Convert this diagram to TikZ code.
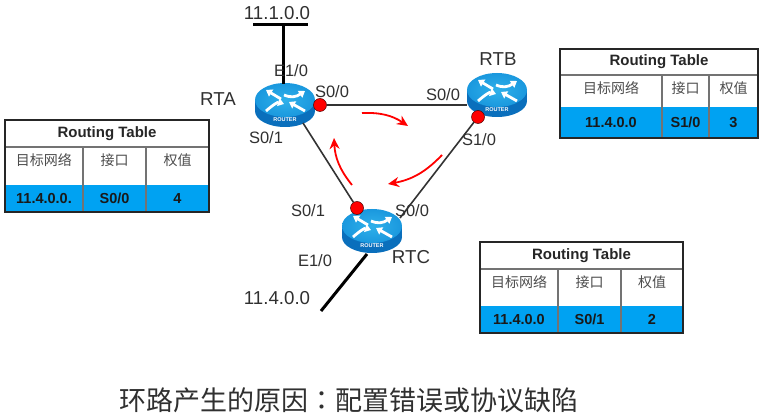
\documentclass[tikz,border=0pt]{standalone}
\usepackage{fontspec}
\setmainfont{Liberation Sans}
\newfontfamily\cjk{Noto Sans CJK SC}
\newfontfamily\cjkcolon{Noto Sans CJK TC}
\usetikzlibrary{arrows.meta, shapes.geometric}

\definecolor{routertop}{HTML}{2FB0EA}
\definecolor{routeredge}{HTML}{1A98DE}
\definecolor{routerside}{HTML}{0A6FBC}
\definecolor{tableblue}{HTML}{00A2F2}
\definecolor{labelgray}{HTML}{303030}

\tikzset{
	routerpic/.pic={
		\fill[routerside] (-30,-5) rectangle (30,6);
		\fill[routerside] (0,6) ellipse [x radius=30, y radius=16];
		\shade[inner color=routertop, outer color=routeredge] (0,-5) ellipse [x radius=30, y radius=17];
		\draw[white, line width=2.8pt, -{Triangle[length=6pt,width=8pt]}] (-4,-6) -- (-19,-15);
		\draw[white, line width=2.8pt, -{Triangle[length=6pt,width=8pt]}] (-19,6) .. controls (-11,-1) and (-7,-3) .. (-1,-1);
		\draw[white, line width=2.8pt, -{Triangle[length=6pt,width=8pt]}] (-1,-10) .. controls (6,-7) and (11,-8) .. (20,-14);
		\draw[white, line width=2.8pt, -{Triangle[length=6pt,width=8pt]}] (20,6) -- (4,-3);
		\node[white, font=\bfseries\fontsize{5.5}{6}\selectfont] at (0,15) {ROUTER};
	},
	routernode/.style={ellipse, minimum width=60pt, minimum height=44pt, inner sep=0pt},
	portdot/.style={circle, draw=black!70!red, fill=red, line width=0.5pt, minimum size=13pt, inner sep=0pt},
	iflabel/.style={text=labelgray, font=\fontsize{16.5}{18}\selectfont, inner sep=0pt},
	namelabel/.style={text=labelgray, font=\fontsize{18.7}{20}\selectfont, inner sep=0pt},
	link/.style={draw=black!80, line width=1.6pt},
	stub/.style={draw=black, line width=3pt},
	loopflow/.style={draw=red, line width=1.8pt, -{Stealth[length=11pt,width=10pt]}},
	tabletitle/.style={font=\bfseries\fontsize{15}{17}\selectfont, text=black!85, inner sep=0pt},
	tablehead/.style={font=\cjk\fontsize{14}{16}\selectfont, text=black!70, inner sep=0pt},
	tablecell/.style={font=\bfseries\fontsize{14.5}{16}\selectfont, text=black!90, inner sep=0pt},
}

\begin{document}
\begin{tikzpicture}[x=1pt,y=-1pt]
	\useasboundingbox (0,0) rectangle (763,419);

	% routers
	\node[routernode] (rta) at (285,105) {};
	\node[routernode] (rtb) at (497,95) {};
	\node[routernode] (rtc) at (372,231) {};
	\pic at (rta) {routerpic};
	\pic at (rtb) {routerpic};
	\pic at (rtc) {routerpic};

	\node[portdot] (dota) at (320,105) {};
	\node[portdot] (dotb) at (478,117) {};
	\node[portdot] (dotc) at (357,208) {};

	% networks
	\coordinate (busl) at (253,25);
	\coordinate (busr) at (308,25);
	\coordinate (busm) at (283,25);
	\coordinate (rtae) at (283,84);
	\coordinate (rtce) at (367,254);
	\coordinate (lanc) at (321,311);
	\coordinate (rtas) at (303,123);
	\coordinate (rtcs) at (400,218);

	\draw[stub] (busl) -- (busr);
	\draw[stub] (busm) -- (rtae);
	\draw[stub] (rtce) -- (lanc);
	\draw[link] (dota) -- (rtb.west |- dota);
	\draw[link] (rtas) -- (dotc);
	\draw[link] (dotb) -- (rtcs);

	% loop
	\coordinate (flowa) at (362,113);
	\coordinate (flowb) at (408,126);
	\coordinate (flowc) at (442,155);
	\coordinate (flowd) at (388,184);
	\coordinate (flowe) at (352,185);
	\coordinate (flowf) at (334,138);
	\draw[loopflow] (flowa) to[bend left=18] (flowb);
	\draw[loopflow] (flowc) to[bend left=18] (flowd);
	\draw[loopflow] (flowe) to[bend left=18] (flowf);

	% labels
	\node[namelabel] (neta) at (277,13) {11.1.0.0};
	\node[namelabel] (netc) at (277,298) {11.4.0.0};
	\node[namelabel] (namea) at (218,99) {RTA};
	\node[namelabel] (nameb) at (498,59) {RTB};
	\node[namelabel] (namec) at (411,257) {RTC};
	\node[iflabel] (ifae) at (291,71) {E1/0};
	\node[iflabel] (ifas) at (332,92) {S0/0};
	\node[iflabel] (ifat) at (266,138) {S0/1};
	\node[iflabel] (ifbs) at (443,95) {S0/0};
	\node[iflabel] (ifbt) at (479,140) {S1/0};
	\node[iflabel] (ifcs) at (308,211) {S0/1};
	\node[iflabel] (ifct) at (412,211) {S0/0};
	\node[iflabel] (ifce) at (315,261) {E1/0};

	% routing tables
	\foreach \nm/\xa/\xb/\xc/\xd/\ya/\yb/\yc/\yd/\net/\port/\cost in {
		left/5/83/146/209/120/147/185/212/11.4.0.0./S0\slash 0/4,
		right/560/662/709/758/49/75/107/138/11.4.0.0/S1\slash 0/3,
		low/480/558/621/683/242/269/306/333/11.4.0.0/S0\slash 1/2}
	{
		\fill[tableblue] (\xa,\yc) rectangle (\xd,\yd);
		\draw[black!55, line width=1.2pt] (\xa,\yb) -- (\xd,\yb) (\xb,\yb) -- (\xb,\yd) (\xc,\yb) -- (\xc,\yd);
		\draw[black!85, line width=1.6pt] (\xa,\ya) rectangle (\xd,\yd);
		\node[tabletitle] (\nm title) at ({(\xa+\xd)/2},{(\ya+\yb)/2}) {Routing Table};
		\node[tablehead] (\nm net) at ({(\xa+\xb)/2},{\yb+13}) {目标网络};
		\node[tablehead] (\nm port) at ({(\xb+\xc)/2},{\yb+13}) {接口};
		\node[tablehead] (\nm cost) at ({(\xc+\xd)/2},{\yb+13}) {权值};
		\node[tablecell] (\nm netv) at ({(\xa+\xb)/2},{(\yc+\yd)/2}) {\net};
		\node[tablecell] (\nm portv) at ({(\xb+\xc)/2},{(\yc+\yd)/2}) {\port};
		\node[tablecell] (\nm costv) at ({(\xc+\xd)/2},{(\yc+\yd)/2}) {\cost};
	}

	\node[text=labelgray, font=\cjk\fontsize{27}{30}\selectfont, inner sep=0pt] (cause) at (349,400) {环路产生的原因{\cjkcolon ：}配置错误或协议缺陷};
\end{tikzpicture}
\end{document}
